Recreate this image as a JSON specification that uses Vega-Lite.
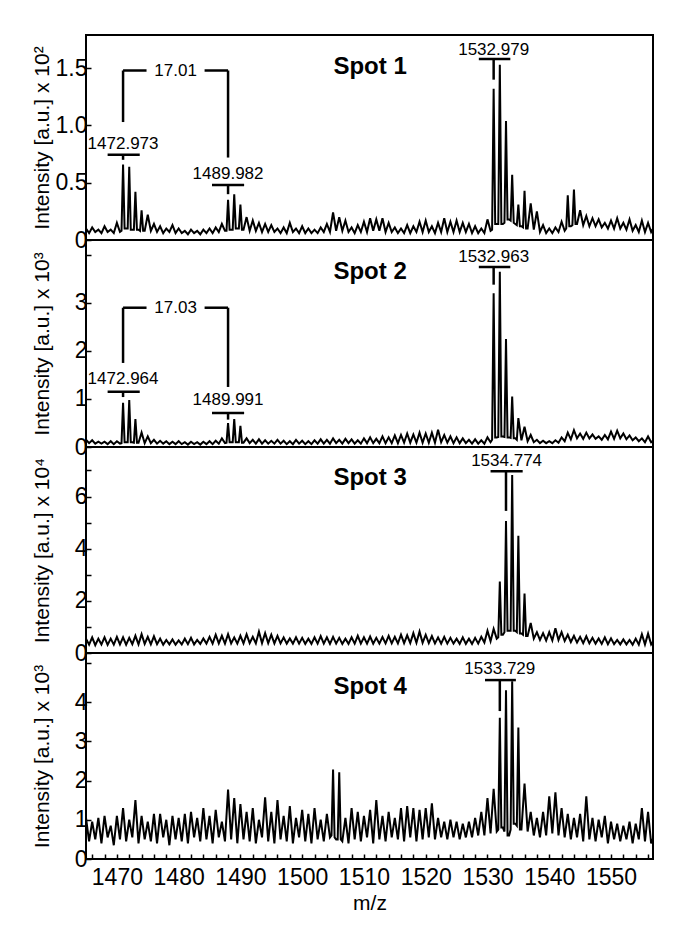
{
"$schema":"https://vega.github.io/schema/vega-lite/v6.json",
"background":"white",
"padding":{"left":30,"top":34,"right":10,"bottom":10},
"spacing":0,
"bounds":"flush",
"config":{
 "view":{"stroke":"black","strokeWidth":2},
 "axis":{"domain":false,"grid":false,"tickColor":"black","tickWidth":1.5,"tickSize":-5,"labelColor":"black","titleColor":"black","labelFont":"Liberation Sans","titleFont":"Liberation Sans","labelFontSize":23,"titleFontSize":21,"titleFontWeight":"normal","labelOverlap":false,"labelFlush":false},
 "axisY":{"labelPadding":4,"minExtent":32,"maxExtent":32,"titlePadding":2}
},
"datasets":{
"s1":[{"x":1465,"y":0.10},{"x":1465.5,"y":0.06},{"x":1466,"y":0.11},{"x":1466.5,"y":0.07},{"x":1467,"y":0.09},{"x":1467.5,"y":0.06},{"x":1468,"y":0.12},{"x":1468.5,"y":0.07},{"x":1469,"y":0.09},{"x":1469.5,"y":0.06},{"x":1470,"y":0.15},{"x":1470.5,"y":0.07},{"x":1471,"y":0.66},{"x":1471.5,"y":0.10},{"x":1472,"y":0.64},{"x":1472.5,"y":0.09},{"x":1473,"y":0.42},{"x":1473.5,"y":0.09},{"x":1474,"y":0.26},{"x":1474.5,"y":0.08},{"x":1475,"y":0.22},{"x":1475.5,"y":0.08},{"x":1476,"y":0.14},{"x":1476.5,"y":0.07},{"x":1477,"y":0.12},{"x":1477.5,"y":0.06},{"x":1478,"y":0.10},{"x":1478.5,"y":0.07},{"x":1479,"y":0.13},{"x":1479.5,"y":0.06},{"x":1480,"y":0.10},{"x":1480.5,"y":0.06},{"x":1481,"y":0.08},{"x":1481.5,"y":0.05},{"x":1482,"y":0.09},{"x":1482.5,"y":0.06},{"x":1483,"y":0.08},{"x":1483.5,"y":0.05},{"x":1484,"y":0.09},{"x":1484.5,"y":0.06},{"x":1485,"y":0.10},{"x":1485.5,"y":0.06},{"x":1486,"y":0.11},{"x":1486.5,"y":0.07},{"x":1487,"y":0.14},{"x":1487.5,"y":0.08},{"x":1488,"y":0.35},{"x":1488.5,"y":0.09},{"x":1489,"y":0.40},{"x":1489.5,"y":0.10},{"x":1490,"y":0.31},{"x":1490.5,"y":0.09},{"x":1491,"y":0.20},{"x":1491.5,"y":0.08},{"x":1492,"y":0.17},{"x":1492.5,"y":0.08},{"x":1493,"y":0.15},{"x":1493.5,"y":0.07},{"x":1494,"y":0.14},{"x":1494.5,"y":0.07},{"x":1495,"y":0.13},{"x":1495.5,"y":0.07},{"x":1496,"y":0.10},{"x":1496.5,"y":0.06},{"x":1497,"y":0.11},{"x":1497.5,"y":0.06},{"x":1498,"y":0.15},{"x":1498.5,"y":0.07},{"x":1499,"y":0.10},{"x":1499.5,"y":0.06},{"x":1500,"y":0.12},{"x":1500.5,"y":0.06},{"x":1501,"y":0.10},{"x":1501.5,"y":0.06},{"x":1502,"y":0.09},{"x":1502.5,"y":0.06},{"x":1503,"y":0.11},{"x":1503.5,"y":0.07},{"x":1504,"y":0.14},{"x":1504.5,"y":0.07},{"x":1505,"y":0.24},{"x":1505.5,"y":0.08},{"x":1506,"y":0.20},{"x":1506.5,"y":0.08},{"x":1507,"y":0.17},{"x":1507.5,"y":0.07},{"x":1508,"y":0.11},{"x":1508.5,"y":0.06},{"x":1509,"y":0.13},{"x":1509.5,"y":0.07},{"x":1510,"y":0.16},{"x":1510.5,"y":0.07},{"x":1511,"y":0.19},{"x":1511.5,"y":0.08},{"x":1512,"y":0.18},{"x":1512.5,"y":0.08},{"x":1513,"y":0.19},{"x":1513.5,"y":0.07},{"x":1514,"y":0.15},{"x":1514.5,"y":0.07},{"x":1515,"y":0.11},{"x":1515.5,"y":0.06},{"x":1516,"y":0.10},{"x":1516.5,"y":0.06},{"x":1517,"y":0.13},{"x":1517.5,"y":0.06},{"x":1518,"y":0.12},{"x":1518.5,"y":0.07},{"x":1519,"y":0.16},{"x":1519.5,"y":0.07},{"x":1520,"y":0.17},{"x":1520.5,"y":0.07},{"x":1521,"y":0.12},{"x":1521.5,"y":0.06},{"x":1522,"y":0.15},{"x":1522.5,"y":0.07},{"x":1523,"y":0.19},{"x":1523.5,"y":0.07},{"x":1524,"y":0.16},{"x":1524.5,"y":0.07},{"x":1525,"y":0.17},{"x":1525.5,"y":0.07},{"x":1526,"y":0.15},{"x":1526.5,"y":0.07},{"x":1527,"y":0.14},{"x":1527.5,"y":0.06},{"x":1528,"y":0.12},{"x":1528.5,"y":0.06},{"x":1529,"y":0.10},{"x":1529.5,"y":0.06},{"x":1530,"y":0.18},{"x":1530.5,"y":0.08},{"x":1531,"y":1.32},{"x":1531.5,"y":0.14},{"x":1532,"y":1.53},{"x":1532.5,"y":0.14},{"x":1533,"y":1.04},{"x":1533.5,"y":0.18},{"x":1534,"y":0.57},{"x":1534.5,"y":0.14},{"x":1535,"y":0.31},{"x":1535.5,"y":0.12},{"x":1536,"y":0.43},{"x":1536.5,"y":0.10},{"x":1537,"y":0.32},{"x":1537.5,"y":0.09},{"x":1538,"y":0.25},{"x":1538.5,"y":0.07},{"x":1539,"y":0.13},{"x":1539.5,"y":0.06},{"x":1540,"y":0.10},{"x":1540.5,"y":0.06},{"x":1541,"y":0.11},{"x":1541.5,"y":0.07},{"x":1542,"y":0.16},{"x":1542.5,"y":0.08},{"x":1543,"y":0.39},{"x":1543.5,"y":0.12},{"x":1544,"y":0.44},{"x":1544.5,"y":0.14},{"x":1545,"y":0.26},{"x":1545.5,"y":0.13},{"x":1546,"y":0.21},{"x":1546.5,"y":0.12},{"x":1547,"y":0.19},{"x":1547.5,"y":0.12},{"x":1548,"y":0.18},{"x":1548.5,"y":0.11},{"x":1549,"y":0.15},{"x":1549.5,"y":0.10},{"x":1550,"y":0.17},{"x":1550.5,"y":0.10},{"x":1551,"y":0.19},{"x":1551.5,"y":0.10},{"x":1552,"y":0.15},{"x":1552.5,"y":0.09},{"x":1553,"y":0.18},{"x":1553.5,"y":0.08},{"x":1554,"y":0.13},{"x":1554.5,"y":0.07},{"x":1555,"y":0.17},{"x":1555.5,"y":0.07},{"x":1556,"y":0.15},{"x":1556.5,"y":0.07},{"x":1557,"y":0.12},
{"x":1470.75,"y":0.08},{"x":1471.25,"y":0.10},{"x":1471.75,"y":0.10},{"x":1472.25,"y":0.09},{"x":1472.75,"y":0.09},{"x":1473.25,"y":0.09},{"x":1473.75,"y":0.08},{"x":1474.25,"y":0.08},
{"x":1487.75,"y":0.08},{"x":1488.25,"y":0.09},{"x":1488.75,"y":0.09},{"x":1489.25,"y":0.10},{"x":1489.75,"y":0.10},{"x":1490.25,"y":0.09},
{"x":1530.75,"y":0.09},{"x":1531.25,"y":0.14},{"x":1531.75,"y":0.14},{"x":1532.25,"y":0.14},{"x":1532.75,"y":0.15},{"x":1533.25,"y":0.18},{"x":1533.75,"y":0.17},{"x":1534.25,"y":0.15},{"x":1534.75,"y":0.13},{"x":1535.25,"y":0.12},{"x":1535.75,"y":0.11},{"x":1536.25,"y":0.10},
{"x":1542.75,"y":0.10},{"x":1543.25,"y":0.12},{"x":1543.75,"y":0.13},{"x":1544.25,"y":0.14}],
"s2":[{"x":1465,"y":0.15},{"x":1465.5,"y":0.08},{"x":1466,"y":0.14},{"x":1466.5,"y":0.07},{"x":1467,"y":0.11},{"x":1467.5,"y":0.07},{"x":1468,"y":0.11},{"x":1468.5,"y":0.06},{"x":1469,"y":0.12},{"x":1469.5,"y":0.06},{"x":1470,"y":0.12},{"x":1470.5,"y":0.07},{"x":1471,"y":0.92},{"x":1471.5,"y":0.10},{"x":1472,"y":0.98},{"x":1472.5,"y":0.10},{"x":1473,"y":0.58},{"x":1473.5,"y":0.09},{"x":1474,"y":0.30},{"x":1474.5,"y":0.08},{"x":1475,"y":0.22},{"x":1475.5,"y":0.08},{"x":1476,"y":0.15},{"x":1476.5,"y":0.07},{"x":1477,"y":0.13},{"x":1477.5,"y":0.07},{"x":1478,"y":0.12},{"x":1478.5,"y":0.06},{"x":1479,"y":0.11},{"x":1479.5,"y":0.06},{"x":1480,"y":0.12},{"x":1480.5,"y":0.06},{"x":1481,"y":0.10},{"x":1481.5,"y":0.05},{"x":1482,"y":0.11},{"x":1482.5,"y":0.06},{"x":1483,"y":0.10},{"x":1483.5,"y":0.05},{"x":1484,"y":0.11},{"x":1484.5,"y":0.06},{"x":1485,"y":0.12},{"x":1485.5,"y":0.06},{"x":1486,"y":0.13},{"x":1486.5,"y":0.07},{"x":1487,"y":0.18},{"x":1487.5,"y":0.08},{"x":1488,"y":0.50},{"x":1488.5,"y":0.10},{"x":1489,"y":0.58},{"x":1489.5,"y":0.10},{"x":1490,"y":0.44},{"x":1490.5,"y":0.09},{"x":1491,"y":0.18},{"x":1491.5,"y":0.08},{"x":1492,"y":0.15},{"x":1492.5,"y":0.07},{"x":1493,"y":0.16},{"x":1493.5,"y":0.07},{"x":1494,"y":0.14},{"x":1494.5,"y":0.07},{"x":1495,"y":0.13},{"x":1495.5,"y":0.07},{"x":1496,"y":0.15},{"x":1496.5,"y":0.07},{"x":1497,"y":0.13},{"x":1497.5,"y":0.06},{"x":1498,"y":0.12},{"x":1498.5,"y":0.06},{"x":1499,"y":0.15},{"x":1499.5,"y":0.07},{"x":1500,"y":0.13},{"x":1500.5,"y":0.06},{"x":1501,"y":0.12},{"x":1501.5,"y":0.06},{"x":1502,"y":0.14},{"x":1502.5,"y":0.07},{"x":1503,"y":0.16},{"x":1503.5,"y":0.07},{"x":1504,"y":0.15},{"x":1504.5,"y":0.07},{"x":1505,"y":0.18},{"x":1505.5,"y":0.08},{"x":1506,"y":0.15},{"x":1506.5,"y":0.07},{"x":1507,"y":0.17},{"x":1507.5,"y":0.08},{"x":1508,"y":0.16},{"x":1508.5,"y":0.07},{"x":1509,"y":0.14},{"x":1509.5,"y":0.07},{"x":1510,"y":0.18},{"x":1510.5,"y":0.08},{"x":1511,"y":0.20},{"x":1511.5,"y":0.08},{"x":1512,"y":0.17},{"x":1512.5,"y":0.08},{"x":1513,"y":0.22},{"x":1513.5,"y":0.08},{"x":1514,"y":0.20},{"x":1514.5,"y":0.08},{"x":1515,"y":0.24},{"x":1515.5,"y":0.08},{"x":1516,"y":0.25},{"x":1516.5,"y":0.09},{"x":1517,"y":0.28},{"x":1517.5,"y":0.09},{"x":1518,"y":0.26},{"x":1518.5,"y":0.09},{"x":1519,"y":0.30},{"x":1519.5,"y":0.09},{"x":1520,"y":0.28},{"x":1520.5,"y":0.09},{"x":1521,"y":0.30},{"x":1521.5,"y":0.09},{"x":1522,"y":0.36},{"x":1522.5,"y":0.10},{"x":1523,"y":0.25},{"x":1523.5,"y":0.09},{"x":1524,"y":0.22},{"x":1524.5,"y":0.08},{"x":1525,"y":0.20},{"x":1525.5,"y":0.08},{"x":1526,"y":0.18},{"x":1526.5,"y":0.08},{"x":1527,"y":0.15},{"x":1527.5,"y":0.07},{"x":1528,"y":0.16},{"x":1528.5,"y":0.07},{"x":1529,"y":0.14},{"x":1529.5,"y":0.07},{"x":1530,"y":0.20},{"x":1530.5,"y":0.10},{"x":1531,"y":3.20},{"x":1531.5,"y":0.20},{"x":1532,"y":3.65},{"x":1532.5,"y":0.22},{"x":1533,"y":2.25},{"x":1533.5,"y":0.20},{"x":1534,"y":1.05},{"x":1534.5,"y":0.18},{"x":1535,"y":0.60},{"x":1535.5,"y":0.14},{"x":1536,"y":0.42},{"x":1536.5,"y":0.12},{"x":1537,"y":0.25},{"x":1537.5,"y":0.10},{"x":1538,"y":0.15},{"x":1538.5,"y":0.08},{"x":1539,"y":0.13},{"x":1539.5,"y":0.08},{"x":1540,"y":0.12},{"x":1540.5,"y":0.08},{"x":1541,"y":0.14},{"x":1541.5,"y":0.09},{"x":1542,"y":0.20},{"x":1542.5,"y":0.12},{"x":1543,"y":0.30},{"x":1543.5,"y":0.16},{"x":1544,"y":0.35},{"x":1544.5,"y":0.18},{"x":1545,"y":0.28},{"x":1545.5,"y":0.17},{"x":1546,"y":0.30},{"x":1546.5,"y":0.18},{"x":1547,"y":0.26},{"x":1547.5,"y":0.17},{"x":1548,"y":0.22},{"x":1548.5,"y":0.15},{"x":1549,"y":0.25},{"x":1549.5,"y":0.16},{"x":1550,"y":0.32},{"x":1550.5,"y":0.17},{"x":1551,"y":0.34},{"x":1551.5,"y":0.18},{"x":1552,"y":0.28},{"x":1552.5,"y":0.16},{"x":1553,"y":0.24},{"x":1553.5,"y":0.14},{"x":1554,"y":0.20},{"x":1554.5,"y":0.12},{"x":1555,"y":0.18},{"x":1555.5,"y":0.10},{"x":1556,"y":0.22},{"x":1556.5,"y":0.10},{"x":1557,"y":0.15},
{"x":1470.75,"y":0.08},{"x":1471.25,"y":0.10},{"x":1471.75,"y":0.10},{"x":1472.25,"y":0.10},{"x":1472.75,"y":0.09},{"x":1473.25,"y":0.09},
{"x":1487.75,"y":0.09},{"x":1488.25,"y":0.10},{"x":1488.75,"y":0.10},{"x":1489.25,"y":0.10},{"x":1489.75,"y":0.10},{"x":1490.25,"y":0.09},
{"x":1530.75,"y":0.15},{"x":1531.25,"y":0.20},{"x":1531.75,"y":0.21},{"x":1532.25,"y":0.22},{"x":1532.75,"y":0.21},{"x":1533.25,"y":0.20},{"x":1533.75,"y":0.19},{"x":1534.25,"y":0.18},{"x":1534.75,"y":0.15}],
"s3":[{"x":1465,"y":0.55},{"x":1465.5,"y":0.32},{"x":1466,"y":0.60},{"x":1466.5,"y":0.30},{"x":1467,"y":0.55},{"x":1467.5,"y":0.33},{"x":1468,"y":0.60},{"x":1468.5,"y":0.31},{"x":1469,"y":0.55},{"x":1469.5,"y":0.32},{"x":1470,"y":0.62},{"x":1470.5,"y":0.33},{"x":1471,"y":0.60},{"x":1471.5,"y":0.32},{"x":1472,"y":0.58},{"x":1472.5,"y":0.34},{"x":1473,"y":0.66},{"x":1473.5,"y":0.33},{"x":1474,"y":0.72},{"x":1474.5,"y":0.35},{"x":1475,"y":0.62},{"x":1475.5,"y":0.33},{"x":1476,"y":0.64},{"x":1476.5,"y":0.34},{"x":1477,"y":0.55},{"x":1477.5,"y":0.32},{"x":1478,"y":0.50},{"x":1478.5,"y":0.33},{"x":1479,"y":0.52},{"x":1479.5,"y":0.32},{"x":1480,"y":0.48},{"x":1480.5,"y":0.33},{"x":1481,"y":0.55},{"x":1481.5,"y":0.34},{"x":1482,"y":0.58},{"x":1482.5,"y":0.33},{"x":1483,"y":0.50},{"x":1483.5,"y":0.35},{"x":1484,"y":0.56},{"x":1484.5,"y":0.36},{"x":1485,"y":0.62},{"x":1485.5,"y":0.36},{"x":1486,"y":0.70},{"x":1486.5,"y":0.37},{"x":1487,"y":0.66},{"x":1487.5,"y":0.36},{"x":1488,"y":0.72},{"x":1488.5,"y":0.37},{"x":1489,"y":0.60},{"x":1489.5,"y":0.36},{"x":1490,"y":0.66},{"x":1490.5,"y":0.37},{"x":1491,"y":0.72},{"x":1491.5,"y":0.38},{"x":1492,"y":0.62},{"x":1492.5,"y":0.37},{"x":1493,"y":0.82},{"x":1493.5,"y":0.38},{"x":1494,"y":0.76},{"x":1494.5,"y":0.38},{"x":1495,"y":0.70},{"x":1495.5,"y":0.37},{"x":1496,"y":0.66},{"x":1496.5,"y":0.37},{"x":1497,"y":0.60},{"x":1497.5,"y":0.36},{"x":1498,"y":0.56},{"x":1498.5,"y":0.36},{"x":1499,"y":0.60},{"x":1499.5,"y":0.36},{"x":1500,"y":0.58},{"x":1500.5,"y":0.35},{"x":1501,"y":0.55},{"x":1501.5,"y":0.35},{"x":1502,"y":0.60},{"x":1502.5,"y":0.36},{"x":1503,"y":0.65},{"x":1503.5,"y":0.36},{"x":1504,"y":0.60},{"x":1504.5,"y":0.35},{"x":1505,"y":0.62},{"x":1505.5,"y":0.36},{"x":1506,"y":0.58},{"x":1506.5,"y":0.35},{"x":1507,"y":0.55},{"x":1507.5,"y":0.35},{"x":1508,"y":0.60},{"x":1508.5,"y":0.36},{"x":1509,"y":0.66},{"x":1509.5,"y":0.36},{"x":1510,"y":0.60},{"x":1510.5,"y":0.36},{"x":1511,"y":0.63},{"x":1511.5,"y":0.36},{"x":1512,"y":0.58},{"x":1512.5,"y":0.36},{"x":1513,"y":0.61},{"x":1513.5,"y":0.37},{"x":1514,"y":0.66},{"x":1514.5,"y":0.37},{"x":1515,"y":0.62},{"x":1515.5,"y":0.37},{"x":1516,"y":0.70},{"x":1516.5,"y":0.38},{"x":1517,"y":0.68},{"x":1517.5,"y":0.38},{"x":1518,"y":0.76},{"x":1518.5,"y":0.39},{"x":1519,"y":0.82},{"x":1519.5,"y":0.39},{"x":1520,"y":0.70},{"x":1520.5,"y":0.38},{"x":1521,"y":0.65},{"x":1521.5,"y":0.37},{"x":1522,"y":0.60},{"x":1522.5,"y":0.36},{"x":1523,"y":0.62},{"x":1523.5,"y":0.36},{"x":1524,"y":0.58},{"x":1524.5,"y":0.36},{"x":1525,"y":0.55},{"x":1525.5,"y":0.35},{"x":1526,"y":0.60},{"x":1526.5,"y":0.35},{"x":1527,"y":0.55},{"x":1527.5,"y":0.35},{"x":1528,"y":0.58},{"x":1528.5,"y":0.36},{"x":1529,"y":0.62},{"x":1529.5,"y":0.40},{"x":1530,"y":0.85},{"x":1530.5,"y":0.45},{"x":1531,"y":0.92},{"x":1531.5,"y":0.55},{"x":1532,"y":2.74},{"x":1532.5,"y":0.70},{"x":1533,"y":5.06},{"x":1533.5,"y":0.85},{"x":1534,"y":6.83},{"x":1534.5,"y":0.85},{"x":1535,"y":4.50},{"x":1535.5,"y":0.75},{"x":1536,"y":2.28},{"x":1536.5,"y":0.65},{"x":1537,"y":1.15},{"x":1537.5,"y":0.55},{"x":1538,"y":0.80},{"x":1538.5,"y":0.50},{"x":1539,"y":0.76},{"x":1539.5,"y":0.48},{"x":1540,"y":0.80},{"x":1540.5,"y":0.48},{"x":1541,"y":0.95},{"x":1541.5,"y":0.50},{"x":1542,"y":0.80},{"x":1542.5,"y":0.46},{"x":1543,"y":0.70},{"x":1543.5,"y":0.42},{"x":1544,"y":0.66},{"x":1544.5,"y":0.40},{"x":1545,"y":0.62},{"x":1545.5,"y":0.38},{"x":1546,"y":0.64},{"x":1546.5,"y":0.37},{"x":1547,"y":0.58},{"x":1547.5,"y":0.36},{"x":1548,"y":0.56},{"x":1548.5,"y":0.35},{"x":1549,"y":0.60},{"x":1549.5,"y":0.34},{"x":1550,"y":0.56},{"x":1550.5,"y":0.34},{"x":1551,"y":0.50},{"x":1551.5,"y":0.33},{"x":1552,"y":0.52},{"x":1552.5,"y":0.33},{"x":1553,"y":0.50},{"x":1553.5,"y":0.32},{"x":1554,"y":0.55},{"x":1554.5,"y":0.32},{"x":1555,"y":0.72},{"x":1555.5,"y":0.33},{"x":1556,"y":0.74},{"x":1556.5,"y":0.33},{"x":1557,"y":0.50},
{"x":1531.75,"y":0.60},{"x":1532.25,"y":0.70},{"x":1532.75,"y":0.80},{"x":1533.25,"y":0.85},{"x":1533.75,"y":0.85},{"x":1534.25,"y":0.85},{"x":1534.75,"y":0.80},{"x":1535.25,"y":0.75},{"x":1535.75,"y":0.70},{"x":1536.25,"y":0.65}],
"s4":[{"x":1465,"y":1.05},{"x":1465.5,"y":0.45},{"x":1466,"y":0.95},{"x":1466.5,"y":0.50},{"x":1467,"y":1.05},{"x":1467.5,"y":0.40},{"x":1468,"y":1.10},{"x":1468.5,"y":0.55},{"x":1469,"y":0.85},{"x":1469.5,"y":0.35},{"x":1470,"y":1.10},{"x":1470.5,"y":0.50},{"x":1471,"y":1.30},{"x":1471.5,"y":0.45},{"x":1472,"y":1.00},{"x":1472.5,"y":0.55},{"x":1473,"y":1.50},{"x":1473.5,"y":0.40},{"x":1474,"y":1.10},{"x":1474.5,"y":0.50},{"x":1475,"y":0.95},{"x":1475.5,"y":0.45},{"x":1476,"y":1.15},{"x":1476.5,"y":0.40},{"x":1477,"y":1.15},{"x":1477.5,"y":0.55},{"x":1478,"y":1.00},{"x":1478.5,"y":0.35},{"x":1479,"y":1.10},{"x":1479.5,"y":0.50},{"x":1480,"y":1.05},{"x":1480.5,"y":0.45},{"x":1481,"y":1.15},{"x":1481.5,"y":0.40},{"x":1482,"y":1.20},{"x":1482.5,"y":0.55},{"x":1483,"y":1.05},{"x":1483.5,"y":0.45},{"x":1484,"y":1.30},{"x":1484.5,"y":0.50},{"x":1485,"y":1.10},{"x":1485.5,"y":0.40},{"x":1486,"y":1.25},{"x":1486.5,"y":0.55},{"x":1487,"y":0.95},{"x":1487.5,"y":0.45},{"x":1488,"y":1.77},{"x":1488.5,"y":0.50},{"x":1489,"y":1.55},{"x":1489.5,"y":0.40},{"x":1490,"y":1.40},{"x":1490.5,"y":0.50},{"x":1491,"y":1.20},{"x":1491.5,"y":0.45},{"x":1492,"y":1.30},{"x":1492.5,"y":0.40},{"x":1493,"y":1.00},{"x":1493.5,"y":0.55},{"x":1494,"y":1.57},{"x":1494.5,"y":0.45},{"x":1495,"y":1.20},{"x":1495.5,"y":0.40},{"x":1496,"y":1.50},{"x":1496.5,"y":0.50},{"x":1497,"y":1.10},{"x":1497.5,"y":0.45},{"x":1498,"y":1.35},{"x":1498.5,"y":0.40},{"x":1499,"y":1.05},{"x":1499.5,"y":0.55},{"x":1500,"y":1.25},{"x":1500.5,"y":0.45},{"x":1501,"y":1.15},{"x":1501.5,"y":0.40},{"x":1502,"y":1.30},{"x":1502.5,"y":0.50},{"x":1503,"y":1.00},{"x":1503.5,"y":0.45},{"x":1504,"y":1.15},{"x":1504.5,"y":0.55},{"x":1505,"y":2.28},{"x":1505.5,"y":0.50},{"x":1506,"y":2.21},{"x":1506.5,"y":0.45},{"x":1507,"y":1.05},{"x":1507.5,"y":0.40},{"x":1508,"y":1.30},{"x":1508.5,"y":0.50},{"x":1509,"y":1.20},{"x":1509.5,"y":0.45},{"x":1510,"y":1.10},{"x":1510.5,"y":0.55},{"x":1511,"y":1.25},{"x":1511.5,"y":0.40},{"x":1512,"y":1.50},{"x":1512.5,"y":0.50},{"x":1513,"y":1.10},{"x":1513.5,"y":0.45},{"x":1514,"y":1.20},{"x":1514.5,"y":0.55},{"x":1515,"y":1.05},{"x":1515.5,"y":0.50},{"x":1516,"y":1.30},{"x":1516.5,"y":0.45},{"x":1517,"y":1.35},{"x":1517.5,"y":0.55},{"x":1518,"y":1.30},{"x":1518.5,"y":0.45},{"x":1519,"y":1.25},{"x":1519.5,"y":0.50},{"x":1520,"y":1.30},{"x":1520.5,"y":0.55},{"x":1521,"y":1.42},{"x":1521.5,"y":0.50},{"x":1522,"y":1.05},{"x":1522.5,"y":0.55},{"x":1523,"y":0.95},{"x":1523.5,"y":0.50},{"x":1524,"y":1.00},{"x":1524.5,"y":0.55},{"x":1525,"y":0.95},{"x":1525.5,"y":0.50},{"x":1526,"y":0.90},{"x":1526.5,"y":0.55},{"x":1527,"y":0.95},{"x":1527.5,"y":0.55},{"x":1528,"y":1.05},{"x":1528.5,"y":0.60},{"x":1529,"y":1.20},{"x":1529.5,"y":0.60},{"x":1530,"y":1.55},{"x":1530.5,"y":0.65},{"x":1531,"y":1.79},{"x":1531.5,"y":0.70},{"x":1532,"y":3.60},{"x":1532.5,"y":0.80},{"x":1533,"y":4.30},{"x":1533.5,"y":0.60},{"x":1534,"y":4.53},{"x":1534.5,"y":0.90},{"x":1535,"y":3.35},{"x":1535.5,"y":0.75},{"x":1536,"y":1.92},{"x":1536.5,"y":0.70},{"x":1537,"y":1.20},{"x":1537.5,"y":0.60},{"x":1538,"y":1.05},{"x":1538.5,"y":0.55},{"x":1539,"y":1.20},{"x":1539.5,"y":0.60},{"x":1540,"y":1.60},{"x":1540.5,"y":0.65},{"x":1541,"y":1.70},{"x":1541.5,"y":0.60},{"x":1542,"y":1.30},{"x":1542.5,"y":0.55},{"x":1543,"y":1.15},{"x":1543.5,"y":0.50},{"x":1544,"y":1.05},{"x":1544.5,"y":0.55},{"x":1545,"y":1.15},{"x":1545.5,"y":0.45},{"x":1546,"y":1.60},{"x":1546.5,"y":0.50},{"x":1547,"y":1.05},{"x":1547.5,"y":0.45},{"x":1548,"y":1.00},{"x":1548.5,"y":0.55},{"x":1549,"y":1.10},{"x":1549.5,"y":0.40},{"x":1550,"y":0.95},{"x":1550.5,"y":0.50},{"x":1551,"y":0.90},{"x":1551.5,"y":0.45},{"x":1552,"y":0.85},{"x":1552.5,"y":0.50},{"x":1553,"y":0.95},{"x":1553.5,"y":0.40},{"x":1554,"y":0.90},{"x":1554.5,"y":0.50},{"x":1555,"y":1.30},{"x":1555.5,"y":0.45},{"x":1556,"y":1.20},{"x":1556.5,"y":0.40},{"x":1557,"y":0.60},
{"x":1504.75,"y":0.60},{"x":1505.25,"y":0.55},{"x":1505.75,"y":0.50},{"x":1506.25,"y":0.50},
{"x":1531.75,"y":0.75},{"x":1532.25,"y":0.80},{"x":1532.75,"y":0.70},{"x":1533.25,"y":0.60},{"x":1533.75,"y":0.75},{"x":1534.25,"y":0.90},{"x":1534.75,"y":0.85},{"x":1535.25,"y":0.75}],
"ann":[
{"p":1,"k":"s","x":1468.5,"x2":1473.7,"y":0.745,"y2":0.745},
{"p":1,"k":"s","x":1471,"x2":1471,"y":0.745,"y2":0.70},
{"p":1,"k":"s","x":1471,"x2":1471,"y":1.03,"y2":1.48},
{"p":1,"k":"s","x":1471,"x2":1474.8,"y":1.48,"y2":1.48},
{"p":1,"k":"s","x":1484.2,"x2":1488,"y":1.48,"y2":1.48},
{"p":1,"k":"s","x":1488,"x2":1488,"y":1.48,"y2":0.72},
{"p":1,"k":"s","x":1485.4,"x2":1490.6,"y":0.48,"y2":0.48},
{"p":1,"k":"s","x":1488,"x2":1488,"y":0.48,"y2":0.40},
{"p":1,"k":"s","x":1528.6,"x2":1533.7,"y":1.58,"y2":1.58},
{"p":1,"k":"s","x":1531,"x2":1531,"y":1.58,"y2":1.40},
{"p":1,"k":"n","x":1471,"y":0.84,"t":"1472.973"},
{"p":1,"k":"n","x":1488,"y":0.58,"t":"1489.982"},
{"p":1,"k":"n","x":1531,"y":1.66,"t":"1532.979"},
{"p":1,"k":"n","x":1479.5,"y":1.48,"t":"17.01"},
{"p":1,"k":"T","x":1511,"y":1.51,"t":"Spot 1"},
{"p":2,"k":"s","x":1468.5,"x2":1473.7,"y":1.15,"y2":1.15},
{"p":2,"k":"s","x":1471,"x2":1471,"y":1.15,"y2":1.04},
{"p":2,"k":"s","x":1471,"x2":1471,"y":1.75,"y2":2.9},
{"p":2,"k":"s","x":1471,"x2":1474.8,"y":2.9,"y2":2.9},
{"p":2,"k":"s","x":1484.2,"x2":1488,"y":2.9,"y2":2.9},
{"p":2,"k":"s","x":1488,"x2":1488,"y":2.9,"y2":1.25},
{"p":2,"k":"s","x":1485.4,"x2":1490.6,"y":0.71,"y2":0.71},
{"p":2,"k":"s","x":1488,"x2":1488,"y":0.71,"y2":0.57},
{"p":2,"k":"s","x":1528.6,"x2":1533.7,"y":3.75,"y2":3.75},
{"p":2,"k":"s","x":1531,"x2":1531,"y":3.75,"y2":3.38},
{"p":2,"k":"n","x":1471,"y":1.42,"t":"1472.964"},
{"p":2,"k":"n","x":1488,"y":0.98,"t":"1489.991"},
{"p":2,"k":"n","x":1531,"y":3.95,"t":"1532.963"},
{"p":2,"k":"n","x":1479.5,"y":2.9,"t":"17.03"},
{"p":2,"k":"T","x":1511,"y":3.65,"t":"Spot 2"},
{"p":3,"k":"s","x":1530.5,"x2":1535.7,"y":6.97,"y2":6.97},
{"p":3,"k":"s","x":1533,"x2":1533,"y":6.97,"y2":5.45},
{"p":3,"k":"n","x":1533.1,"y":7.36,"t":"1534.774"},
{"p":3,"k":"T","x":1511,"y":6.7,"t":"Spot 3"},
{"p":4,"k":"s","x":1529.6,"x2":1534.6,"y":4.56,"y2":4.56},
{"p":4,"k":"s","x":1532,"x2":1532,"y":4.56,"y2":3.77},
{"p":4,"k":"n","x":1532,"y":4.85,"t":"1533.729"},
{"p":4,"k":"T","x":1511,"y":4.39,"t":"Spot 4"}
]
},
"vconcat":[
{"width":567,"height":205,
 "encoding":{"x":{"field":"x","type":"quantitative","scale":{"domain":[1465,1556.8],"nice":false,"zero":false},"axis":null},
   "y":{"field":"y","type":"quantitative","scale":{"domain":[0,1.79],"nice":false,"zero":false},"axis":{"title":"Intensity [a.u.] x 10²","values":[0,0.5,1,1.5],"labelExpr":"datum.value == 0 ? '0' : format(datum.value, '.1f')"}}},
 "layer":[
 {"data":{"name":"s1"},"mark":{"type":"line","color":"black","strokeWidth":2,"clip":true}},
 {"data":{"name":"ann"},"transform":[{"filter":"datum.p == 1 && datum.k == 's'"}],"mark":{"type":"rule","color":"black","strokeWidth":2.5},"encoding":{"x2":{"field":"x2"},"y2":{"field":"y2"}}},
 {"data":{"name":"ann"},"transform":[{"filter":"datum.p == 1 && datum.k == 'n'"}],"mark":{"type":"text","font":"Liberation Sans","fontSize":17,"baseline":"middle","color":"black"},"encoding":{"text":{"field":"t"}}},
 {"data":{"name":"ann"},"transform":[{"filter":"datum.p == 1 && datum.k == 'T'"}],"mark":{"type":"text","font":"Liberation Sans","fontSize":24,"fontWeight":"bold","baseline":"middle","color":"black"},"encoding":{"text":{"field":"t"}}}
]},
{"width":567,"height":207,
 "encoding":{"x":{"field":"x","type":"quantitative","scale":{"domain":[1465,1556.8],"nice":false,"zero":false},"axis":null},
   "y":{"field":"y","type":"quantitative","scale":{"domain":[0,4.31],"nice":false,"zero":false},"axis":{"title":"Intensity [a.u.] x 10³","values":[0,1,2,3,4],"labelExpr":"datum.value == 4 ? '' : datum.label"}}},
 "layer":[
 {"data":{"name":"s2"},"mark":{"type":"line","color":"black","strokeWidth":2,"clip":true}},
 {"data":{"name":"ann"},"transform":[{"filter":"datum.p == 2 && datum.k == 's'"}],"mark":{"type":"rule","color":"black","strokeWidth":2.5},"encoding":{"x2":{"field":"x2"},"y2":{"field":"y2"}}},
 {"data":{"name":"ann"},"transform":[{"filter":"datum.p == 2 && datum.k == 'n'"}],"mark":{"type":"text","font":"Liberation Sans","fontSize":17,"baseline":"middle","color":"black"},"encoding":{"text":{"field":"t"}}},
 {"data":{"name":"ann"},"transform":[{"filter":"datum.p == 2 && datum.k == 'T'"}],"mark":{"type":"text","font":"Liberation Sans","fontSize":24,"fontWeight":"bold","baseline":"middle","color":"black"},"encoding":{"text":{"field":"t"}}}
]},
{"width":567,"height":206,
 "encoding":{"x":{"field":"x","type":"quantitative","scale":{"domain":[1465,1556.8],"nice":false,"zero":false},"axis":null},
   "y":{"field":"y","type":"quantitative","scale":{"domain":[0,7.9],"nice":false,"zero":false},"axis":{"title":"Intensity [a.u.] x 10⁴","values":[0,1,2,3,4,5,6,7],"labelExpr":"datum.value % 2 == 0 ? datum.label : ''"}}},
 "layer":[
 {"data":{"name":"s3"},"mark":{"type":"line","color":"black","strokeWidth":2,"clip":true}},
 {"data":{"name":"ann"},"transform":[{"filter":"datum.p == 3 && datum.k == 's'"}],"mark":{"type":"rule","color":"black","strokeWidth":2.5},"encoding":{"x2":{"field":"x2"},"y2":{"field":"y2"}}},
 {"data":{"name":"ann"},"transform":[{"filter":"datum.p == 3 && datum.k == 'n'"}],"mark":{"type":"text","font":"Liberation Sans","fontSize":17,"baseline":"middle","color":"black"},"encoding":{"text":{"field":"t"}}},
 {"data":{"name":"ann"},"transform":[{"filter":"datum.p == 3 && datum.k == 'T'"}],"mark":{"type":"text","font":"Liberation Sans","fontSize":24,"fontWeight":"bold","baseline":"middle","color":"black"},"encoding":{"text":{"field":"t"}}}
]},
{"width":567,"height":206,
 "encoding":{"x":{"field":"x","type":"quantitative","scale":{"domain":[1465,1556.8],"nice":false,"zero":false},"axis":{"title":"m/z","format":"d","titlePadding":3,"labelPadding":12,"values":[1466,1468,1470,1472,1474,1476,1478,1480,1482,1484,1486,1488,1490,1492,1494,1496,1498,1500,1502,1504,1506,1508,1510,1512,1514,1516,1518,1520,1522,1524,1526,1528,1530,1532,1534,1536,1538,1540,1542,1544,1546,1548,1550,1552,1554,1556],"labelExpr":"datum.value % 10 == 0 ? datum.label : ''"}},
   "y":{"field":"y","type":"quantitative","scale":{"domain":[0,5.25],"nice":false,"zero":false},"axis":{"title":"Intensity [a.u.] x 10³","values":[0,1,2,3,4,5],"labelExpr":"datum.value == 5 ? '' : datum.label"}}},
 "layer":[
 {"data":{"name":"s4"},"mark":{"type":"line","color":"black","strokeWidth":2,"clip":true}},
 {"data":{"name":"ann"},"transform":[{"filter":"datum.p == 4 && datum.k == 's'"}],"mark":{"type":"rule","color":"black","strokeWidth":2.5},"encoding":{"x2":{"field":"x2"},"y2":{"field":"y2"}}},
 {"data":{"name":"ann"},"transform":[{"filter":"datum.p == 4 && datum.k == 'n'"}],"mark":{"type":"text","font":"Liberation Sans","fontSize":17,"baseline":"middle","color":"black"},"encoding":{"text":{"field":"t"}}},
 {"data":{"name":"ann"},"transform":[{"filter":"datum.p == 4 && datum.k == 'T'"}],"mark":{"type":"text","font":"Liberation Sans","fontSize":24,"fontWeight":"bold","baseline":"middle","color":"black"},"encoding":{"text":{"field":"t"}}}
]}
]
}
